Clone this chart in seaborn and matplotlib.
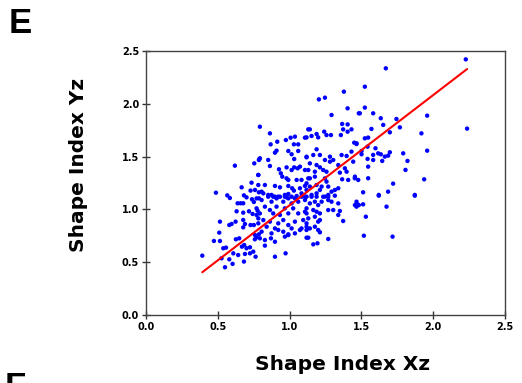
import numpy as np
import pandas as pd
import matplotlib
matplotlib.use("Agg")
import matplotlib.pyplot as plt
import seaborn as sns

# Shape index pairs (Xz, Yz)
shape_xz = [
    0.619, 0.754, 0.789, 0.487, 0.566, 0.584, 0.666, 0.735, 0.782, 0.682, 0.700, 0.728, 0.786,
    0.638, 0.659, 0.738, 0.751, 0.677, 0.786, 0.631, 0.677, 0.717, 0.742, 0.777, 0.770, 0.515,
    0.580, 0.596, 0.624, 0.677, 0.689, 0.728, 0.751, 0.677, 0.782, 0.510, 0.473, 0.515, 0.538,
    0.557, 0.626, 0.649, 0.668, 0.684, 0.700, 0.724, 0.758, 0.770, 0.786, 0.392, 0.526, 0.580,
    0.608, 0.642, 0.689, 0.724, 0.682, 0.550, 0.603, 0.747,
    0.793, 0.863, 0.868, 0.914, 0.974, 1.007, 1.037, 1.030, 1.060, 1.107, 1.130, 0.909, 0.898,
    0.991, 1.014, 1.060, 1.032, 1.118, 0.793, 0.786, 0.851, 0.863, 0.926, 0.979, 1.014, 1.032,
    1.056, 1.072, 1.107, 0.782, 0.939, 0.949, 0.979, 0.991, 1.049, 1.083, 1.130, 0.782, 0.828,
    0.898, 0.933, 0.991, 1.018, 1.030, 1.072, 1.107, 0.759, 0.805, 0.817, 0.851, 0.874, 0.898,
    0.921, 0.967, 0.991, 0.979, 1.049, 1.083, 1.118,
    0.851, 0.886, 0.909, 0.933, 0.967, 0.991, 1.014, 1.037, 1.083, 0.805, 0.874, 0.956, 1.014,
    1.060, 1.107, 0.770, 0.770, 0.828, 0.863, 0.909, 0.967, 1.025, 1.060, 1.107, 0.793, 0.886,
    0.933, 0.991, 0.782, 0.817, 0.863, 0.921, 0.956, 0.991, 1.037, 1.095, 1.118, 1.083, 1.014,
    0.898, 0.840, 0.759, 0.805, 0.874, 0.921, 0.956, 0.991, 1.037, 1.072, 0.793, 0.828, 0.870,
    0.898, 0.967, 0.991, 1.118, 0.828, 0.763, 0.898, 0.972,
    1.378, 1.204, 1.246, 1.292, 1.404, 1.482, 1.366, 1.404, 1.373, 1.404, 1.431, 1.141, 1.241,
    1.257, 1.118, 1.153, 1.188, 1.199, 1.288, 1.357, 1.450, 1.466, 1.188, 1.165, 1.211, 1.118,
    1.281, 1.362, 1.397, 1.431, 1.246, 1.281, 1.304, 1.141, 1.188, 1.211, 1.339, 1.385, 1.397,
    1.443, 1.130, 1.176, 1.234, 1.257, 1.350, 1.141, 1.176, 1.246, 1.257, 1.366, 1.408, 1.455,
    1.478, 1.118, 1.141, 1.188, 1.211, 1.223, 1.269, 1.292, 1.315, 1.339, 1.153, 1.188, 1.246,
    1.269, 1.107,
    1.118, 1.153, 1.188, 1.234, 1.269, 1.315, 1.269, 1.292, 1.339, 1.176, 1.223, 1.141, 1.199,
    1.118, 1.269, 1.304, 1.350, 1.455, 1.473, 1.118, 1.188, 1.211, 1.165, 1.130, 1.176, 1.339,
    1.118, 1.199, 1.211, 1.373, 1.118, 1.141, 1.176, 1.199, 1.211, 1.130, 1.269, 1.165, 1.194,
    1.670, 1.524, 1.524, 1.489, 1.582, 1.635, 1.744, 1.652, 1.768, 1.570, 1.698, 1.524, 1.547,
    1.466, 1.543, 1.501, 1.501, 1.598, 1.617, 1.635, 1.663, 1.686, 1.698, 1.791, 1.543, 1.582,
    1.582, 1.645, 1.821, 1.547, 1.807, 1.454, 1.547, 1.721, 1.512, 1.621, 1.686, 1.872,
    1.621, 1.872, 1.466, 1.466, 1.482, 1.512, 1.675, 1.531, 1.517, 1.717,
    2.227, 2.236, 1.958, 1.918, 1.958, 1.937,
]
shape_yz = [
    1.414, 1.436, 1.474, 1.158, 1.133, 1.108, 1.209, 1.253, 1.326, 1.133, 1.114, 1.178, 1.162,
    1.058, 1.058, 1.096, 1.070, 1.058, 1.105, 0.982, 0.969, 0.982, 0.957, 0.988, 0.947, 0.884,
    0.852, 0.862, 0.884, 0.900, 0.862, 0.852, 0.852, 0.830, 0.868, 0.780, 0.701, 0.701, 0.632,
    0.638, 0.717, 0.726, 0.647, 0.663, 0.632, 0.641, 0.717, 0.736, 0.764, 0.562, 0.537, 0.527,
    0.584, 0.568, 0.578, 0.584, 0.506, 0.452, 0.484, 0.600,
    1.783, 1.720, 1.616, 1.641, 1.657, 1.679, 1.689, 1.616, 1.616, 1.679, 1.758, 1.556, 1.537,
    1.553, 1.522, 1.553, 1.477, 1.499, 1.484, 1.468, 1.468, 1.411, 1.380, 1.398, 1.373, 1.398,
    1.389, 1.405, 1.373, 1.326, 1.342, 1.310, 1.294, 1.279, 1.279, 1.279, 1.294, 1.231, 1.231,
    1.222, 1.209, 1.222, 1.200, 1.178, 1.200, 1.222, 1.184, 1.168, 1.152, 1.137, 1.137, 1.121,
    1.121, 1.137, 1.146, 1.115, 1.127, 1.152, 1.184,
    1.120, 1.120, 1.104, 1.120, 1.120, 1.104, 1.120, 1.104, 1.120, 1.089, 1.073, 1.073, 1.057,
    1.073, 1.089, 1.104, 1.010, 1.026, 0.994, 1.026, 1.010, 1.010, 0.962, 0.978, 0.962, 0.962,
    0.947, 0.962, 0.915, 0.899, 0.884, 0.868, 0.899, 0.852, 0.884, 0.899, 0.836, 0.820, 0.820,
    0.820, 0.836, 0.757, 0.789, 0.773, 0.805, 0.789, 0.757, 0.773, 0.805, 0.726, 0.710, 0.726,
    0.694, 0.742, 0.764, 0.732, 0.657, 0.552, 0.552, 0.584,
    2.115, 2.042, 2.058, 1.894, 1.957, 1.910, 1.809, 1.805, 1.758, 1.736, 1.758, 1.758, 1.736,
    1.704, 1.682, 1.695, 1.714, 1.682, 1.704, 1.704, 1.632, 1.619, 1.569, 1.515, 1.515, 1.493,
    1.499, 1.515, 1.506, 1.547, 1.468, 1.452, 1.468, 1.436, 1.420, 1.398, 1.420, 1.389, 1.357,
    1.452, 1.373, 1.357, 1.373, 1.357, 1.348, 1.294, 1.310, 1.294, 1.263, 1.285, 1.279, 1.310,
    1.279, 1.247, 1.216, 1.231, 1.184, 1.216, 1.216, 1.168, 1.184, 1.200, 1.137, 1.152, 1.121,
    1.137, 1.121,
    1.120, 1.120, 1.120, 1.120, 1.120, 1.130, 1.089, 1.073, 1.057, 1.073, 1.073, 1.057, 1.041,
    1.010, 0.994, 0.994, 0.985, 1.041, 1.048, 0.962, 0.978, 0.962, 0.994, 0.915, 0.931, 0.947,
    0.868, 0.884, 0.899, 0.890, 0.805, 0.820, 0.836, 0.805, 0.783, 0.732, 0.720, 0.669, 0.679,
    2.336, 2.162, 1.964, 1.910, 1.910, 1.863, 1.856, 1.800, 1.777, 1.762, 1.730, 1.673, 1.680,
    1.626, 1.594, 1.553, 1.522, 1.579, 1.531, 1.522, 1.500, 1.509, 1.541, 1.531, 1.478, 1.516,
    1.468, 1.459, 1.459, 1.405, 1.374, 1.295, 1.295, 1.244, 1.162, 1.137, 1.168, 1.137,
    1.130, 1.130, 1.073, 1.026, 1.041, 1.048, 1.026, 0.931, 0.751, 0.742,
    2.421, 1.765, 1.888, 1.720, 1.556, 1.285,
]

# fitted trend line (end points)
fit_x = [0.392, 2.236]
fit_y = [0.405, 2.329]

ticks = [0.0, 0.5, 1.0, 1.5, 2.0, 2.5]
tick_labels = ["0.0", "0.5", "1.0", "1.5", "2.0", "2.5"]

df = pd.DataFrame({"Xz": shape_xz, "Yz": shape_yz})
line_df = pd.DataFrame({"x": fit_x, "y": fit_y})

sns.set_style("white")
plt.rcParams["font.family"] = ["DejaVu Sans"]
plt.rcParams["text.color"] = "black"
plt.rcParams["xtick.color"] = "black"
plt.rcParams["ytick.color"] = "black"

fig = plt.figure(figsize=(5.22, 3.83), dpi=100)
ax = fig.add_axes([146 / 522, 1 - 315 / 383, (505 - 146) / 522, (315 - 51) / 383])

sns.scatterplot(data=df, x="Xz", y="Yz", ax=ax, color="#0000ff", s=10,
                linewidth=0, edgecolor="none", legend=False, zorder=2)
sns.lineplot(data=line_df, x="x", y="y", ax=ax, color="#ff0000", linewidth=1.5,
             zorder=3, legend=False)

ax.set_xlim(0, 2.5)
ax.set_ylim(0, 2.5)
ax.set_xticks(ticks)
ax.set_yticks(ticks)
ax.set_xticklabels(tick_labels, fontsize=7, fontweight="bold", color="black")
ax.set_yticklabels(tick_labels, fontsize=7, fontweight="bold", color="black")
ax.set_xlabel("")
ax.set_ylabel("")
ax.tick_params(direction="inout", length=6, width=1, color="#333333", pad=2,
               bottom=True, left=True, top=False, right=False)
for sp in ax.spines.values():
    sp.set_visible(True)
    sp.set_color("#444444")
    sp.set_linewidth(1.0)

label_font = dict(fontsize=14.5, fontweight="bold", color="black",
                  family=["DejaVu Sans"])
fig.text(343 / 522, 1 - 365 / 383, "Shape Index Xz", ha="center", va="center",
         **label_font)
fig.text(79 / 522, 1 - 165 / 383, "Shape Index Yz", ha="center", va="center",
         rotation=90, **label_font)
fig.text(9 / 522, 1 - 7 / 383, "E", ha="left", va="top", fontsize=25,
         fontweight="bold", color="black", family=["Liberation Sans", "DejaVu Sans"])
fig.text(5 / 522, 1 - 371 / 383, "F", ha="left", va="top", fontsize=25,
         fontweight="bold", color="black", family=["Liberation Sans", "DejaVu Sans"])

fig.savefig("out.png", dpi=100)
